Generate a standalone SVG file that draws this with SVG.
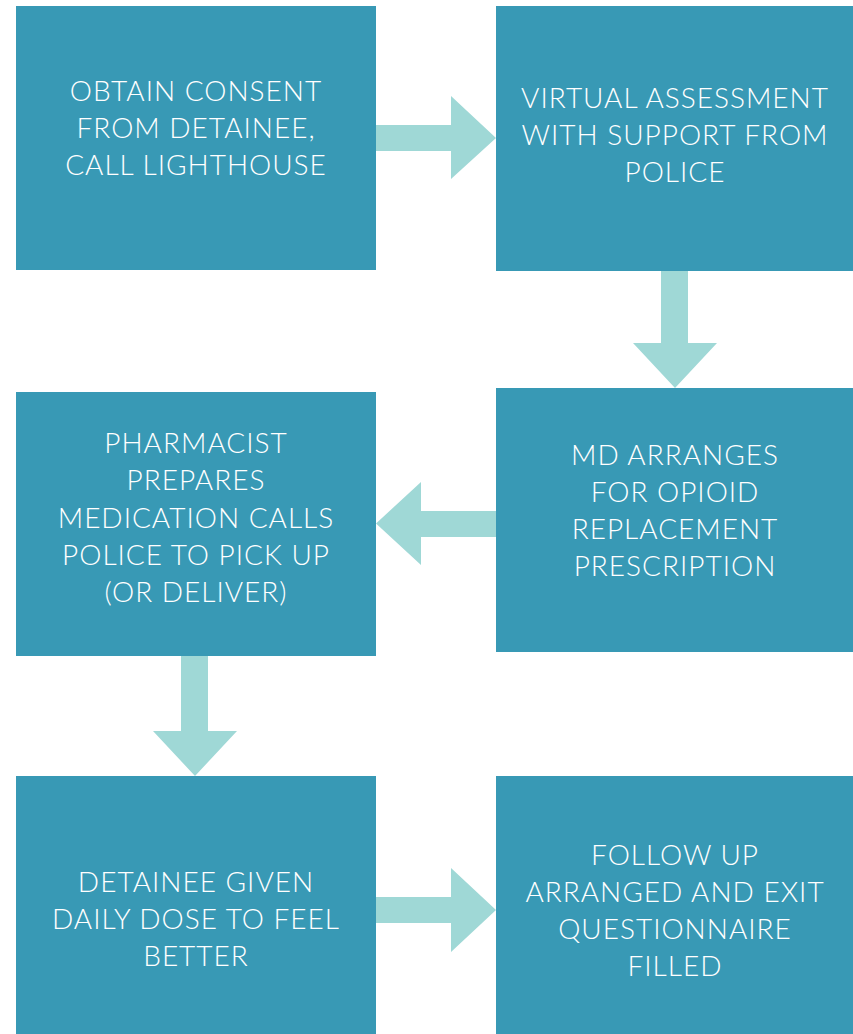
<svg xmlns="http://www.w3.org/2000/svg" width="853" height="1034" viewBox="0 0 853 1034">
<style>
.box{fill:#3899b5}
.arr{fill:#9fd8d6}
.t{font-family:Lato,"Open Sans","Liberation Sans",sans-serif;font-weight:300;font-size:28px;letter-spacing:1px;fill:#ffffff;text-anchor:middle}
</style>
<rect width="853" height="1034" fill="#ffffff"/>
<g id="connectors">
<polygon class="arr" points="376,125 451,125 451,96 496,138 451,179 451,151 376,151"/>
<polygon class="arr" points="661,271 688,271 688,343 717,343 675,388 633,343 661,343"/>
<polygon class="arr" points="496,511 421,511 421,482 376,523.5 421,565 421,537 496,537"/>
<polygon class="arr" points="181,656 208,656 208,731 237,731 195,776 153,731 181,731"/>
<polygon class="arr" points="376,897 451,897 451,868 496,910 451,952 451,923 376,923"/>
</g>
<g id="n1"><rect class="box" x="16" y="6" width="360" height="264"/>
<text class="t"><tspan x="196" y="101">OBTAIN CONSENT</tspan><tspan x="196" y="138">FROM DETAINEE,</tspan><tspan x="196" y="175">CALL LIGHTHOUSE</tspan></text></g>
<g id="n2"><rect class="box" x="496" y="6" width="357" height="265"/>
<text class="t"><tspan x="675" y="108">VIRTUAL ASSESSMENT</tspan><tspan x="675" y="145">WITH SUPPORT FROM</tspan><tspan x="675" y="182">POLICE</tspan></text></g>
<g id="n3"><rect class="box" x="496" y="388" width="357" height="264"/>
<text class="t"><tspan x="675" y="465">MD ARRANGES</tspan><tspan x="675" y="502">FOR OPIOID</tspan><tspan x="675" y="539">REPLACEMENT</tspan><tspan x="675" y="576">PRESCRIPTION</tspan></text></g>
<g id="n4"><rect class="box" x="16" y="392" width="360" height="264"/>
<text class="t"><tspan x="196" y="453">PHARMACIST</tspan><tspan x="196" y="490">PREPARES</tspan><tspan x="196" y="528">MEDICATION CALLS</tspan><tspan x="196" y="565">POLICE TO PICK UP</tspan><tspan x="196" y="602">(OR DELIVER)</tspan></text></g>
<g id="n5"><rect class="box" x="16" y="776" width="360" height="258"/>
<text class="t"><tspan x="196" y="892">DETAINEE GIVEN</tspan><tspan x="196" y="929">DAILY DOSE TO FEEL</tspan><tspan x="196" y="966">BETTER</tspan></text></g>
<g id="n6"><rect class="box" x="496" y="776" width="357" height="258"/>
<text class="t"><tspan x="675" y="865">FOLLOW UP</tspan><tspan x="675" y="902">ARRANGED AND EXIT</tspan><tspan x="675" y="939">QUESTIONNAIRE</tspan><tspan x="675" y="976">FILLED</tspan></text></g>
</svg>
